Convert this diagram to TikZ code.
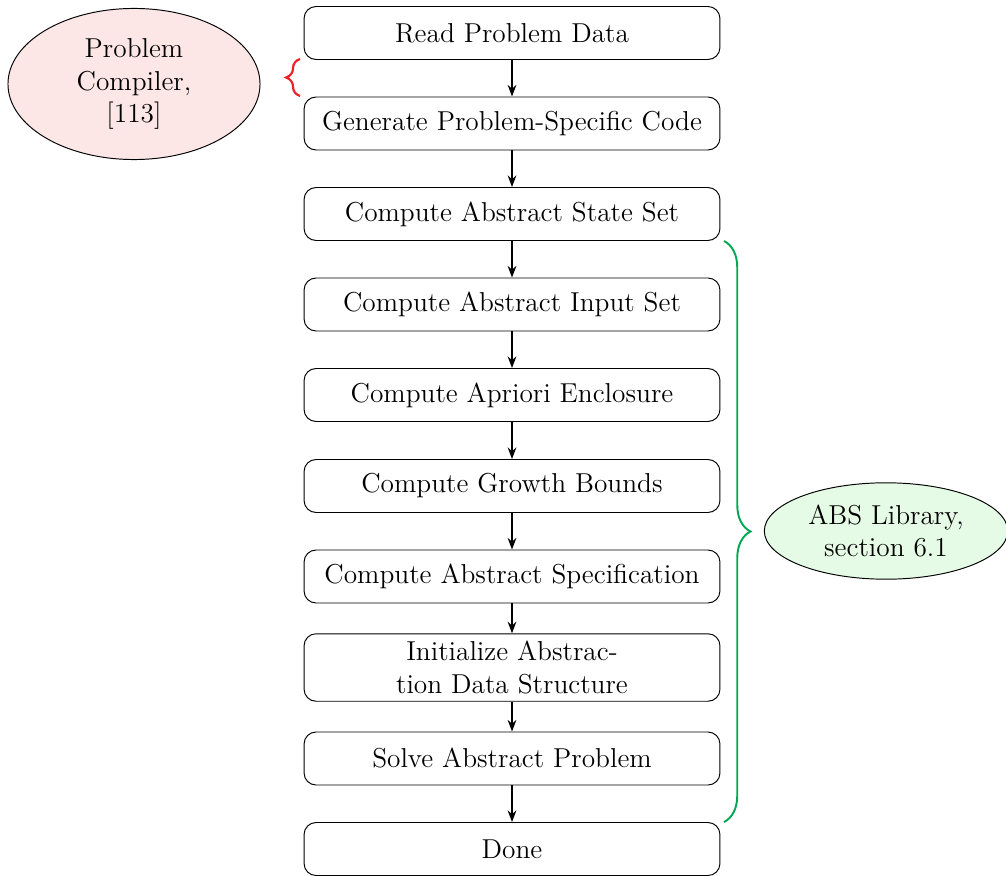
\documentclass[tikz,border=0pt]{standalone}
\usetikzlibrary{shapes.geometric,arrows.meta,decorations.pathreplacing}
\definecolor{bracegreen}{RGB}{0,168,84}
\definecolor{bracered}{RGB}{235,35,40}
\definecolor{pinkfill}{RGB}{253,230,230}
\definecolor{greenfill}{RGB}{230,251,230}
\begin{document}
\begin{tikzpicture}[x=0.415pt,y=-0.415pt,
  every node/.style={font=\fontsize{11.35}{13.5}\selectfont},
  stepbox/.style={draw, rounded corners=5pt, minimum width=172.6pt, minimum height=22pt, inner sep=0pt, align=center},
  flow/.style={-{Stealth[length=4.8pt,width=3.6pt]}, line width=0.75pt},
  infobubble/.style={ellipse, draw, inner sep=0pt, align=center}]
\useasboundingbox (0,0) rectangle (1006,875);
\node[stepbox] (b1) at (512,33) {Read Problem Data};
\node[stepbox] (b2) at (512,123.5) {Generate Problem-Specific Code};
\node[stepbox] (b3) at (512,214) {Compute Abstract State Set};
\node[stepbox] (b4) at (512,304.5) {Compute Abstract Input Set};
\node[stepbox] (b5) at (512,395) {Compute Apriori Enclosure};
\node[stepbox] (b6) at (512,486) {Compute Growth Bounds};
\node[stepbox] (b7) at (512,576.5) {Compute Abstract Specification};
\node[stepbox, minimum height=28pt] (b8) at (512,667.5) {Initialize Abstrac-\\tion Data Structure};
\node[stepbox] (b9) at (512,758.5) {Solve Abstract Problem};
\node[stepbox] (b10) at (512,849) {Done};
\foreach \a/\b in {b1/b2,b2/b3,b3/b4,b4/b5,b5/b6,b6/b7,b7/b8,b8/b9,b9/b10}
  \draw[flow] (\a.south) -- (\b.north);
\node[infobubble, fill=pinkfill, minimum width=104.6pt, minimum height=62.7pt] (pc) at (134,84) {Problem\\Compiler,\\[0pt][113]};
\node[infobubble, fill=greenfill, minimum width=101pt, minimum height=40pt] (abs) at (886,531) {ABS Library,\\section 6.1};
\coordinate (rtop) at (300,59);
\coordinate (rbot) at (300,96);
\draw[bracered, line width=0.9pt, decorate, decoration={brace, amplitude=5.8pt}] (rbot) -- (rtop);
\coordinate (gtop) at (724,241);
\coordinate (gbot) at (724,822);
\draw[bracegreen, line width=0.8pt, decorate, decoration={brace, amplitude=11pt}] (gtop) -- (gbot);
\end{tikzpicture}
\end{document}
